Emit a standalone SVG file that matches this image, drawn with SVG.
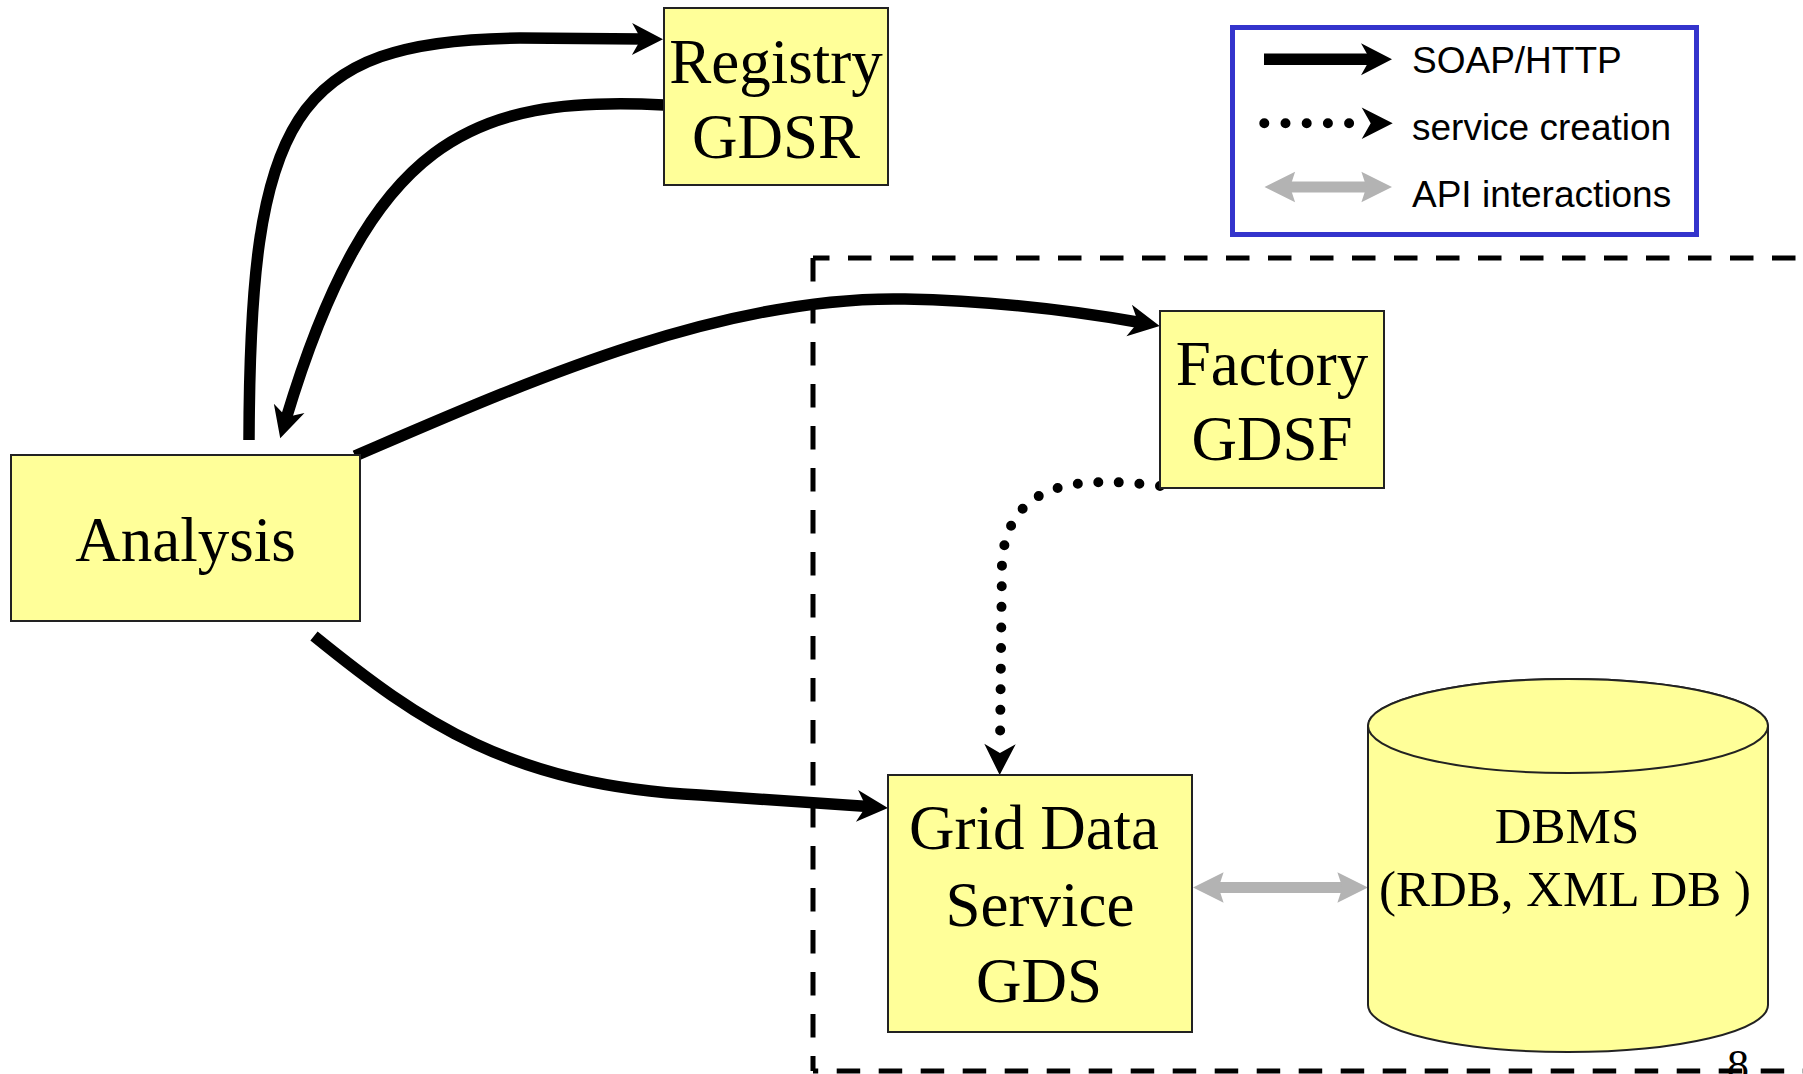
<svg xmlns="http://www.w3.org/2000/svg" width="1803" height="1074" viewBox="0 0 1803 1074">
<style>
.box{fill:#ffff99;stroke:#222;stroke-width:2}
.nt{font-family:"Liberation Serif","Times New Roman",serif;font-size:63px;fill:#000;text-anchor:middle}
.db{font-family:"Liberation Serif","Times New Roman",serif;font-size:51px;fill:#000;text-anchor:middle}
.lt{font-family:"Liberation Sans",Arial,sans-serif;font-size:37px;fill:#000}
.soap{fill:none;stroke:#000;stroke-width:11.5}
.dot{fill:none;stroke:#000;stroke-width:10;stroke-linecap:round}
.api{fill:none;stroke:#b3b3b3;stroke-width:11}
.dash{fill:none;stroke:#000;stroke-width:5;stroke-dasharray:23.5 18.5}
</style>
<defs>
<marker id="ah" markerUnits="userSpaceOnUse" orient="auto" refX="0" refY="0" markerWidth="10" markerHeight="10" overflow="visible">
<path d="M20,0 L-11,-16 L-2,0 L-11,16 Z" fill="#000"/>
</marker>
<marker id="ahd" markerUnits="userSpaceOnUse" orient="auto" refX="0" refY="0" markerWidth="10" markerHeight="10" overflow="visible">
<path d="M31,0 L0,-15.7 L9,0 L0,15.7 Z" fill="#000"/>
</marker>
<marker id="ahg" markerUnits="userSpaceOnUse" orient="auto-start-reverse" refX="0" refY="0" markerWidth="10" markerHeight="10" overflow="visible">
<path d="M20,0 L-10.6,-15.3 L-5.6,0 L-10.6,15.3 Z" fill="#b3b3b3"/>
</marker>
</defs>
<rect width="1803" height="1074" fill="#fff"/>

<g id="boundary">
<path class="dash" d="M813 258 L813 1071"/>
<path class="dash" d="M813 258 L1803 258" stroke-dashoffset="7"/>
<path class="dash" d="M813 1071 L1803 1071" stroke-dashoffset="18.3"/>
</g>

<g id="legend">
<rect x="1232.5" y="27.5" width="464" height="207" fill="none" stroke="#3434cc" stroke-width="5"/>
<path class="soap" d="M1264 59.3 H1372" marker-end="url(#ah)"/>
<path class="dot" d="M1264.3 123.3 H1361.7" stroke-dasharray="0 21.2" marker-end="url(#ahd)"/>
<path class="api" d="M1284.5 187 H1372" marker-start="url(#ahg)" marker-end="url(#ahg)"/>
<text class="lt" x="1412" y="73">SOAP/HTTP</text>
<text class="lt" x="1412" y="139.5">service creation</text>
<text class="lt" x="1412" y="206.5">API interactions</text>
</g>

<g id="connectors">
<path class="soap" d="M249 440 C250 120, 290 40, 520 38 L643 39" marker-end="url(#ah)"/>
<path class="soap" d="M664 105 C470 95, 370 140, 286 419" marker-end="url(#ah)"/>
<path class="soap" d="M355 456 C520 385, 720 295, 905 299 C1000 301, 1080 312, 1140 322.5" marker-end="url(#ah)"/>
<path class="soap" d="M314 636 C420 722, 510 785, 700 795 L868 806.6" marker-end="url(#ah)"/>
<path class="dot" d="M1160 486 C1080 476, 1010 480, 1002 560 L1000 744" stroke-dasharray="0 20.6" marker-end="url(#ahd)"/>
<path class="api" d="M1213 887.5 H1348" marker-start="url(#ahg)" marker-end="url(#ahg)"/>
</g>

<g id="registry">
<rect class="box" x="664" y="8" width="224" height="177"/>
<text class="nt" x="776" y="83">Registry</text>
<text class="nt" x="776" y="158">GDSR</text>
</g>

<g id="analysis">
<rect class="box" x="11" y="455" width="349" height="166"/>
<text class="nt" x="185.5" y="561">Analysis</text>
</g>

<g id="factory">
<rect class="box" x="1160" y="311" width="224" height="177"/>
<text class="nt" x="1272" y="385">Factory</text>
<text class="nt" x="1272" y="460">GDSF</text>
</g>

<g id="gds">
<rect class="box" x="888" y="775" width="304" height="257"/>
<text class="nt" x="1034" y="849">Grid Data</text>
<text class="nt" x="1040" y="926">Service</text>
<text class="nt" x="1039" y="1002">GDS</text>
</g>

<g id="dbms">
<path class="box" d="M1368 726 A200 47 0 0 1 1768 726 L1768 1005 A200 47 0 0 1 1368 1005 Z"/>
<ellipse class="box" cx="1568" cy="726" rx="200" ry="47"/>
<text class="db" x="1567" y="843">DBMS</text>
<text class="db" x="1565" y="906">(RDB, XML DB )</text>
</g>

<text x="1738" y="1080" font-family="Liberation Serif, serif" font-size="44" text-anchor="middle">8</text>
</svg>
